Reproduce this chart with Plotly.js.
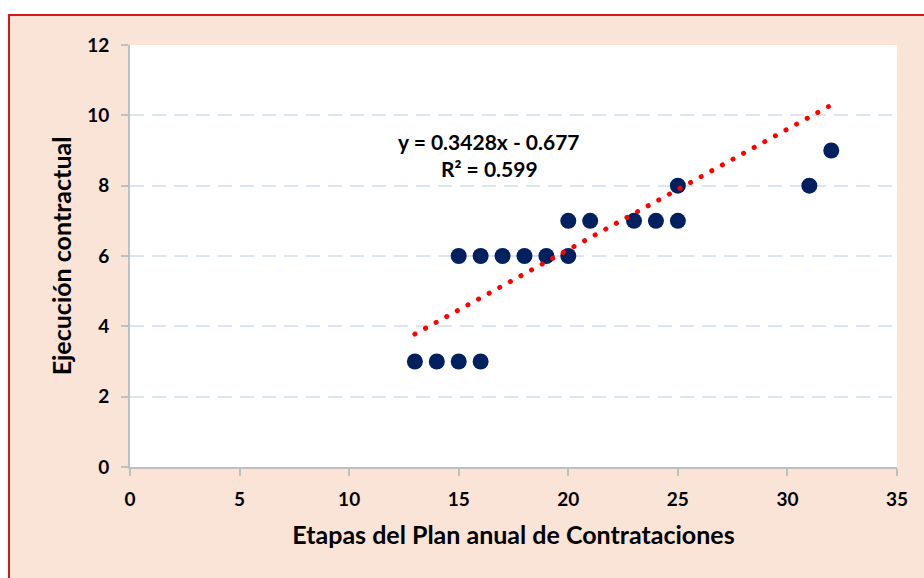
<!DOCTYPE html>
<html><head><meta charset="utf-8">
<script src="https://cdn.plot.ly/plotly-3.0.1.min.js"></script>
<style>
html,body{margin:0;padding:0;background:#fff;width:924px;height:578px;overflow:hidden}
#frame{position:absolute;left:8px;top:14px;width:930px;height:580px;background:#FAE4D7;border-left:2px solid #D9141B;border-top:2px solid #D9141B}
#chart{position:absolute;left:0;top:0;width:924px;height:578px}
.scatterlayer .trace:nth-child(2) .js-line{stroke-linecap:round}
</style></head>
<body><div id="frame"></div><div id="chart"></div>
<script>
// Data
const etapas = [13, 14, 15, 16, 15, 16, 17, 18, 19, 20, 20, 21, 23, 24, 25, 25, 31, 32];
const ejecucion = [3, 3, 3, 3, 6, 6, 6, 6, 6, 6, 7, 7, 7, 7, 7, 8, 8, 9];
const trendSlope = 0.3428;
const trendIntercept = -0.677;
const trendLabel = ["y = 0.3428x - 0.677", "R² = 0.599"];
const xTicks = [0, 5, 10, 15, 20, 25, 30, 35];
const yTicks = [0, 2, 4, 6, 8, 10, 12];

const xMin = Math.min(...etapas), xMax = Math.max(...etapas);
const trendX = [xMin, xMax];
const trendY = trendX.map(x => trendSlope * x + trendIntercept);

const font = "Lato, 'Open Sans', sans-serif";
const traces = [
  {x: etapas, y: ejecucion, type: 'scatter', mode: 'markers',
   marker: {size: 16, color: '#002060'}, cliponaxis: false, hoverinfo: 'x+y'},
  {x: trendX, y: trendY, type: 'scatter', mode: 'lines',
   line: {color: '#FF0000', width: 5, dash: '0.1px,12px'}, hoverinfo: 'skip'}
];
const layout = {
  width: 924, height: 578,
  paper_bgcolor: 'rgba(0,0,0,0)', plot_bgcolor: '#FFFFFF',
  showlegend: false,
  margin: {l: 130, r: 27, t: 45, b: 111},
  font: {family: font, color: '#000', size: 19},
  xaxis: {range: [0, 35], tickvals: xTicks, showgrid: false, zeroline: false,
    showline: true, linecolor: '#BFBFBF', linewidth: 2, ticks: 'outside', ticklen: 7,
    tickcolor: '#BFBFBF', tickwidth: 2, tickfont: {family: font, size: 19, weight: 'bold'},
    ticklabelstandoff: 7,
    title: {text: '<b>Etapas del Plan anual de Contrataciones</b>', font: {family: font, size: 25}, standoff: 18}},
  yaxis: {range: [0, 12], tickvals: yTicks, showgrid: true, gridcolor: '#DCE6F2', gridwidth: 2,
    griddash: '14px,8px', zeroline: false,
    showline: true, linecolor: '#BFBFBF', linewidth: 2, ticks: 'outside', ticklen: 7,
    tickcolor: '#BFBFBF', tickwidth: 2, tickfont: {family: font, size: 19, weight: 'bold'},
    ticklabelstandoff: 8,
    title: {text: '<b>Ejecución contractual</b>', font: {family: font, size: 25}, standoff: 8}},
  annotations: [
    {xref: 'x', yref: 'y', x: 16.4, y: 9.27, text: '<b>' + trendLabel[0] + '</b>', showarrow: false,
     font: {family: font, size: 21}},
    {xref: 'x', yref: 'y', x: 16.4, y: 8.48, text: '<b>' + trendLabel[1] + '</b>', showarrow: false,
     font: {family: font, size: 21}}
  ]
};
Plotly.newPlot('chart', traces, layout, {displayModeBar: false, staticPlot: true});
</script></body></html>
